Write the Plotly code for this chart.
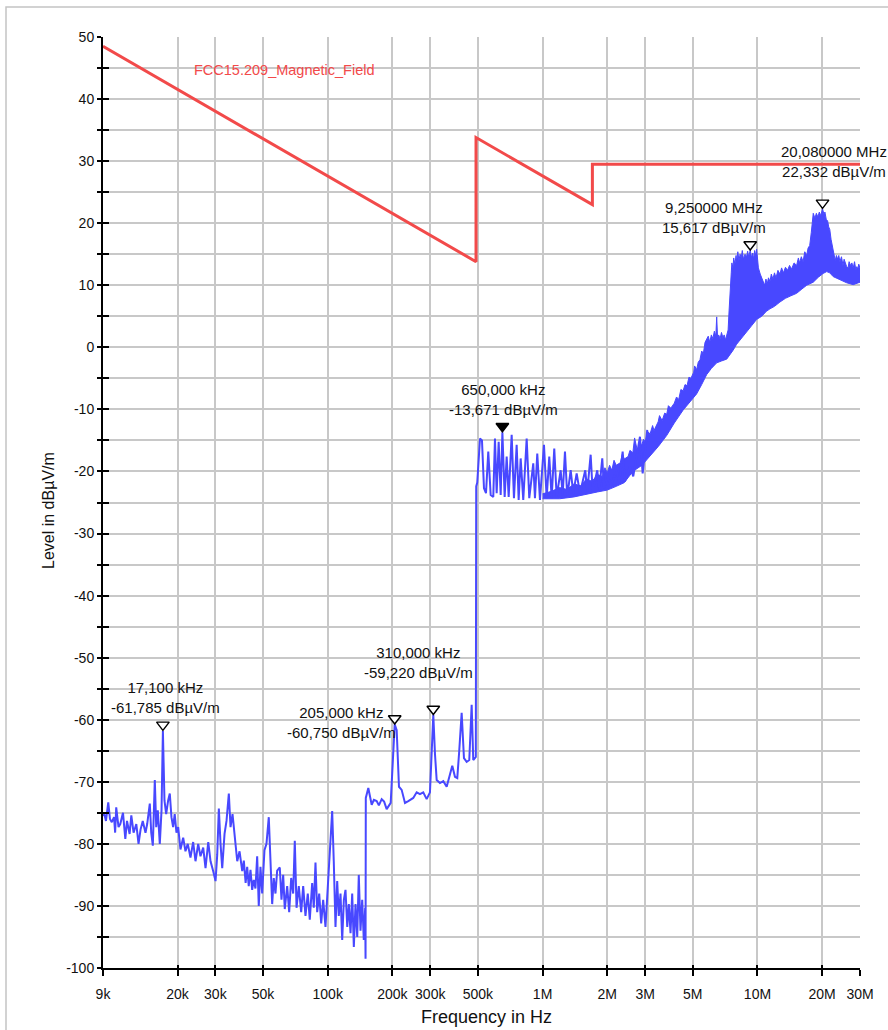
import math
import plotly.graph_objects as go

# ---------------- data ----------------
# Measured spectrum, 9 kHz - 150 kHz band (kHz, dBuV/m)
low_f_khz = [9.0, 9.1, 9.29, 9.52, 9.70, 9.89, 10.13, 10.25, 10.37, 10.63, 10.83, 11.15, 11.43, 11.64,
             11.97, 12.19, 12.49, 12.86, 13.17, 13.46, 13.78, 14.19, 14.45, 14.86, 15.09, 15.35, 15.68,
             15.92, 16.19, 16.54, 16.85, 17.1, 17.39, 17.71, 18.09, 18.41, 18.74, 19.08, 19.41, 19.77,
             20.14, 20.64, 21.25, 21.78, 22.32, 22.98, 23.65, 24.25, 24.96, 25.58, 26.34, 27.00, 27.80,
             28.49, 29.32, 30.06, 30.61, 31.14, 31.71, 32.29, 33.10, 33.81, 34.66, 35.30, 36.06, 36.97,
             37.93, 38.88, 40.02, 40.7, 41.5, 42.19, 42.9, 43.71, 44.51, 45.26, 46.1, 46.96, 47.77,
             48.65, 49.55, 50.78, 51.88, 53.18, 54.15, 55.15, 56.10, 57.13, 58.18, 59.83, 60.93, 62.05,
             63.12, 64.77, 66.17, 67.61, 69.07, 70.27, 71.6, 73.34, 75.25, 76.88, 78.80, 80.77, 82.52,
             84.66, 86.13, 87.72, 89.34, 91.27, 93.25, 95.26, 97.64, 99.43, 101.2, 103.0, 104.9, 106.7,
             108.7, 110.7, 112.6, 114.7, 116.8, 118.9, 121.0, 123.3, 125.4, 127.7, 130.0, 132.3, 134.7,
             137.2, 139.5, 142.1, 144.7, 147.2, 149.4, 150.0]
low_level = [-75.5, -75.0, -76.3, -73.3, -76.0, -76.5, -75.7, -78.2, -74.1, -77.3, -76.8, -75.0, -79.2, -76.3,
             -78.4, -75.4, -78.2, -76.8, -80.0, -77.7, -76.3, -78.2, -76.8, -73.5, -78.2, -80.3, -69.7,
             -77.3, -74.6, -80.0, -74.6, -61.8, -73.0, -75.2, -73.0, -71.9, -75.7, -77.3, -75.2, -78.2,
             -77.3, -80.9, -79.0, -81.2, -80.0, -82.2, -79.7, -82.8, -80.0, -82.0, -80.6, -83.9, -79.7,
             -82.8, -84.4, -86.0, -81.7, -74.3, -80.0, -83.9, -78.4, -76.3, -71.9, -77.3, -75.2, -79.0,
             -82.8, -81.2, -84.4, -82.7, -86.3, -83.7, -86.8, -84.2, -87.4, -85.8, -87.2, -82.0, -90.0,
             -83.7, -88.0, -81.0, -80.0, -75.7, -82.2, -89.7, -85.5, -88.0, -84.3, -83.8, -89.0, -85.0,
             -90.5, -86.8, -91.0, -85.5, -88.0, -79.5, -90.3, -86.8, -91.0, -86.8, -91.6, -88.0, -92.2,
             -86.3, -90.3, -83.0, -91.0, -88.0, -92.8, -89.0, -93.4, -88.5, -84.3, -79.5, -74.7, -82.8,
             -93.4, -86.0, -91.6, -88.0, -95.5, -89.0, -87.4, -93.4, -89.7, -94.4, -88.0, -96.6, -89.7,
             -95.0, -85.0, -94.0, -89.0, -95.5, -90.3, -98.5]

# 150 kHz - 490 kHz band (kHz, dBuV/m)
band2_f_khz = [150.4, 154.5, 160.2, 164.0, 169.0, 173.0, 178.3, 183.0, 188.1, 196.4, 201.9, 205.0, 209.4,
               214.6, 220.9, 228.9, 237.1, 250.1, 259.4, 268.7, 278.4, 288.7, 299.1, 304.0, 310.0, 315.6,
               321.4, 333.0, 345.0, 357.8, 370.6, 379.9, 391.0, 400.8, 409.4, 420.1, 430.6, 443.2, 455.8,
               467.6, 475.7, 489.0]
band2_level = [-72.6, -71.0, -73.7, -72.9, -73.1, -73.8, -72.8, -73.2, -74.4, -73.4, -64.9, -60.75, -61.7,
               -70.8, -71.3, -73.4, -73.1, -72.6, -71.7, -72.0, -71.7, -72.8, -71.7, -66.0, -59.22, -65.5,
               -69.7, -70.2, -69.9, -70.8, -68.8, -67.4, -69.2, -69.4, -65.0, -58.9, -66.2, -66.8, -66.5,
               -57.6, -66.5, -66.0]

# 490 kHz - 3.1 MHz band (kHz, dBuV/m)
band3_f_khz = [491.0, 496.5, 511.2, 522.3, 533.6, 545.2, 558.8, 573.3, 589.5, 600.3, 611.3, 624.6, 638.1,
               650.0, 666.0, 680.5, 695.2, 717.9, 735.8, 757.4, 773.8, 790.6, 812.9, 843.1, 866.9, 904.9,
               921.4, 944.5, 972.2, 1014.8, 1044.6, 1074.1, 1102.0, 1133.2, 1162.7, 1213.7, 1239.9, 1270.9,
               1302.7, 1350.9, 1389.0, 1440.5, 1492.4, 1579.6, 1613.8, 1673.6, 1709.9, 1796.4, 1835.3,
               1895.2, 1930.1, 2021.0, 2073.7, 2211.1, 2273.6, 2357.8, 2416.7, 2549.7, 2641.4, 2838.8,
               2922.1, 3069.7]
band3_level = [-22.4, -21.8, -14.7, -15.0, -22.7, -23.5, -16.8, -23.8, -24.1, -14.7, -23.5, -15.2, -23.8,
               -13.671, -24.1, -17.6, -24.1, -14.1, -24.3, -15.7, -24.6, -17.9, -24.6, -14.7, -24.3, -18.7,
               -24.3, -17.1, -24.6, -15.7, -24.3, -17.6, -24.3, -16.3, -24.1, -19.8, -23.8, -16.8,
               -24.1, -19.8, -23.5, -20.3, -23.5, -19.8, -23.2, -17.3, -23.2, -19.8, -23.0,
               -17.9, -22.7, -20.8, -22.4, -19.8, -21.9, -16.8, -21.6, -19.2, -20.8, -14.4,
               -20.3, -13.3]

# Dense part of the spectrum, 1.0 MHz - 30 MHz: envelope (MHz, dBuV/m)
env_upper_f_mhz = [1.0, 1.1, 1.2, 1.3, 1.4, 1.5, 1.6, 1.7, 1.8, 1.9, 1.95, 2.0, 2.05, 2.1, 2.15,
                   2.2, 2.3, 2.35, 2.4, 2.5, 2.55, 2.63, 2.68, 2.75, 2.9, 2.95, 3.0, 3.1, 3.16, 3.25, 3.3,
                   3.45, 3.5, 3.6, 3.7, 3.78, 3.85, 3.95, 4.1, 4.2, 4.3, 4.4, 4.51, 4.6, 4.7, 4.8, 4.9,
                   5.05, 5.1, 5.21, 5.3, 5.4, 5.5, 5.6, 5.7, 5.8, 5.9, 6.0, 6.1, 6.2, 6.3, 6.4, 6.46, 6.52,
                   6.6, 6.7, 6.8, 6.9, 7.0, 7.1, 7.19, 7.3, 7.38, 7.45, 7.55, 7.6, 7.69, 7.75, 7.85, 7.95,
                   8.0, 8.1, 8.2, 8.3, 8.4, 8.5, 8.6, 8.75, 8.9, 9.0, 9.1, 9.25, 9.4, 9.5, 9.6, 9.7, 9.8,
                   9.91, 10.0, 10.1, 10.3, 10.46, 10.6, 10.8, 10.95, 11.1, 11.25, 11.43, 11.6, 11.8, 12.0,
                   12.2, 12.45, 12.72, 12.95, 13.2, 13.5, 13.8, 14.1, 14.4, 14.8, 15.21, 15.5, 15.7, 16.0,
                   16.3, 16.6, 16.94, 17.2, 17.5, 17.8, 18.0, 18.18, 18.5, 18.8, 19.1, 19.4, 19.7, 20.08,
                   20.4, 20.6, 20.9, 21.2, 21.45, 21.7, 22.0, 22.2, 22.5, 22.8, 23.0, 23.3, 23.6, 23.9,
                   24.2, 24.6, 25.0, 25.3, 25.6, 26.0, 26.4, 26.7, 27.1, 27.5, 27.9, 28.3, 28.7, 29.0,
                   29.3, 29.6, 30.0]
env_upper = [-23.6, -23.2, -22.6, -22.9, -22.0, -22.3, -21.2, -21.6, -20.5, -20.8, -19.4, -20.2,
             -19.0, -19.8, -18.2, -19.0, -18.6, -17.2, -18.0, -17.6, -16.6, -17.0, -14.6, -16.4, -15.6,
             -14.8, -15.2, -13.6, -14.0, -12.6, -13.4, -12.0, -11.0, -11.8, -10.6, -10.8, -9.4, -9.8,
             -9.0, -8.0, -8.4, -6.8, -7.0, -6.0, -6.2, -4.8, -5.0, -4.0, -3.0, -3.6, -2.4, -2.0, -0.6,
             -1.0, 0.8, 1.2, 1.8, 0.8, 2.0, 1.4, 2.6, 1.8, 4.9, 1.6, 2.0, 1.4, 2.4, 1.6, 2.0, 1.2, 2.2,
             2.8, 6.0, 9.6, 12.0, 13.6, 12.8, 14.4, 13.4, 14.8, 13.8, 15.4, 14.0, 15.0, 14.4, 15.6, 14.2,
             15.0, 14.6, 15.5, 14.6, 15.617, 14.4, 15.2, 14.2, 15.6, 14.8, 15.8, 13.6, 12.8, 11.8, 11.2,
             10.4, 10.0, 11.0, 10.2, 11.2, 10.6, 11.8, 11.0, 12.0, 11.2, 12.4, 11.8, 12.8, 12.0, 12.9,
             12.4, 13.2, 12.6, 13.6, 13.2, 14.4, 13.6, 14.6, 13.8, 15.4, 14.8, 16.0, 16.4, 18.5, 20.0,
             21.6, 20.8, 21.6, 21.0, 21.8, 21.2, 22.332, 21.4, 21.8, 20.6, 20.4, 19.4, 19.0, 17.4, 16.6,
             15.3, 14.4, 14.0, 14.8, 14.2, 14.8, 13.8, 14.6, 13.2, 14.2, 13.8, 13.0, 12.8, 13.8, 13.2,
             13.6, 12.8, 13.8, 12.4, 13.0, 12.6, 13.4, 12.8]
env_lower_f_mhz = [1.0, 1.2, 1.4, 1.6, 1.8, 2.0, 2.2, 2.4, 2.63, 2.9, 3.16, 3.45, 3.78, 4.1, 4.51,
                   4.85, 5.21, 5.5, 5.8, 6.1, 6.46, 6.8, 7.19, 7.45, 7.69, 8.0, 8.4, 8.9, 9.4, 9.91,
                   10.46, 11.0, 11.43, 12.0, 12.72, 13.5, 14.3, 15.21, 16.1, 16.94, 18.18, 19.2, 20.2,
                   21.0, 21.7, 22.5, 24.2, 26.0, 27.9, 30.0]
env_lower = [-24.4, -24.4, -24.1, -23.7, -23.3, -23.0, -22.4, -21.8, -20.0, -19.0, -17.6, -16.0,
             -14.2, -12.2, -10.1, -8.8, -7.5, -6.0, -4.4, -3.4, -2.5, -2.2, -1.9, -1.2, -0.5, 0.5, 1.5,
             2.5, 3.5, 4.5, 5.0, 5.8, 6.2, 6.6, 7.3, 7.9, 8.3, 8.7, 9.4, 10.0, 10.5, 11.3, 11.9, 12.2,
             12.0, 11.4, 10.9, 10.4, 10.1, 10.5]

# FCC 15.209 limit (Hz, dBuV/m)
limit_f_hz = [9e3, 490e3, 490e3, 1.705e6, 1.705e6, 30e6]
limit_level = [48.5, 13.8, 33.8, 23.0, 29.5, 29.5]
limit_name = "FCC15.209_Magnetic_Field"

# Markers (Hz, dBuV/m, label, filled)
marker_f_hz = [17.1e3, 205e3, 310e3, 650e3, 9.25e6, 20.08e6]
marker_level = [-61.785, -60.750, -59.220, -13.671, 15.617, 22.332]
marker_text = ["17,100 kHz<br>-61,785 dBµV/m", "205,000 kHz<br>-60,750 dBµV/m",
               "310,000 kHz<br>-59,220 dBµV/m", "650,000 kHz<br>-13,671 dBµV/m",
               "9,250000 MHz<br>15,617 dBµV/m", "20,080000 MHz<br>22,332 dBµV/m"]
marker_filled = [False, False, False, True, False, False]

# Axis ticks
x_tickvals = [9e3, 2e4, 3e4, 5e4, 1e5, 2e5, 3e5, 5e5, 1e6, 2e6, 3e6, 5e6, 1e7, 2e7, 3e7]
x_ticktext = ["9k", "20k", "30k", "50k", "100k", "200k", "300k", "500k", "1M", "2M", "3M", "5M",
              "10M", "20M", "30M"]
y_tickvals = [-100, -95, -90, -85, -80, -75, -70, -65, -60, -55, -50, -45, -40, -35, -30, -25, -20,
              -15, -10, -5, 0, 5, 10, 15, 20, 25, 30, 35, 40, 45, 50]
y_ticktext = ["-100", "", "-90", "", "-80", "", "-70", "", "-60", "", "-50", "", "-40", "", "-30", "",
              "-20", "", "-10", "", "0", "", "10", "", "20", "", "30", "", "40", "", "50"]

# ---------------- styling ----------------
BLUE = "#4848FF"
RED = "#F24A4A"
FONT = "Liberation Sans, Arial, sans-serif"
W, H = 888, 1030
ML, MR, MT, MB = 103, 28, 37, 62
PW, PH = W - ML - MR, H - MT - MB

fig = go.Figure()

# dense envelope as filled polygon
poly_x = [f * 1e6 for f in env_upper_f_mhz] + [f * 1e6 for f in reversed(env_lower_f_mhz)]
poly_y = list(env_upper) + list(reversed(env_lower))
fig.add_trace(go.Scatter(x=poly_x, y=poly_y, mode="lines", fill="toself", fillcolor=BLUE,
                         line=dict(color=BLUE, width=1), hoverinfo="skip", showlegend=False))

# spectrum line
line_x = [f * 1e3 for f in low_f_khz] + [f * 1e3 for f in band2_f_khz] + [f * 1e3 for f in band3_f_khz]
line_y = low_level + band2_level + band3_level
fig.add_trace(go.Scatter(x=line_x, y=line_y, mode="lines", line=dict(color=BLUE, width=2),
                         showlegend=False, name="Level"))

# limit line
fig.add_trace(go.Scatter(x=limit_f_hz, y=limit_level, mode="lines", line=dict(color=RED, width=3),
                         showlegend=False, name=limit_name))

# markers (drawn slightly above the peak so the tip touches it)
MARK_OFF = 0.95
fig.add_trace(go.Scatter(
    x=marker_f_hz, y=[v + MARK_OFF for v in marker_level], mode="markers", showlegend=False,
    marker=dict(symbol="triangle-down", size=11,
                color=["black" if f else "white" for f in marker_filled],
                line=dict(color="black", width=1.4))))

# dummy trace for inside-tick overlay axes
fig.add_trace(go.Scatter(x=[9e3], y=[-200], xaxis="x2", yaxis="y2", mode="markers",
                         marker=dict(opacity=0), hoverinfo="skip", showlegend=False))

# marker labels: (xshift, yshift) in px relative to the marker point, anchored at text bottom
label_shift = [(3, 13), (-53, -19), (-15, 32), (1, 12), (-36, 12), (11, 27)]
for f, v, t, (dx, dy) in zip(marker_f_hz, marker_level, marker_text, label_shift):
    fig.add_annotation(x=math.log10(f), y=v, xref="x", yref="y", text=t, showarrow=False,
                       align="center", xanchor="center", yanchor="bottom", xshift=dx, yshift=dy,
                       font=dict(family=FONT, size=15, color="#111"))

# limit name
fig.add_annotation(x=(192 - ML) / PW, y=(H - MB - 70) / PH, xref="paper", yref="paper",
                   text=limit_name, showarrow=False, xanchor="left", yanchor="middle",
                   font=dict(family=FONT, size=14.5, color=RED))

# axis titles
fig.add_annotation(x=(486 - ML) / PW, y=(H - MB - 1017) / PH, xref="paper", yref="paper",
                   text="Frequency in Hz", showarrow=False, xanchor="center", yanchor="middle",
                   font=dict(family=FONT, size=18, color="#111"))
fig.add_annotation(x=(48 - ML) / PW, y=(H - MB - 511) / PH, xref="paper", yref="paper",
                   text="Level in dBµV/m", textangle=-90, showarrow=False, xanchor="center",
                   yanchor="middle", font=dict(family=FONT, size=16, color="#111"))

# outer frame
fig.add_shape(type="rect", xref="paper", yref="paper",
              x0=(6 - ML) / PW, x1=(895 - ML) / PW, y0=(H - MB - 1040) / PH, y1=(H - MB - 7) / PH,
              line=dict(color="#c4c4c4", width=1.5), fillcolor="rgba(0,0,0,0)", layer="below")

xr = [math.log10(9e3), math.log10(3e7)]
fig.update_layout(
    width=W, height=H, margin=dict(l=ML, r=MR, t=MT, b=MB),
    paper_bgcolor="white", plot_bgcolor="white",
    font=dict(family=FONT, size=14, color="#111"),
    xaxis=dict(type="log", range=xr, tickmode="array", tickvals=x_tickvals, ticktext=x_ticktext,
               showgrid=True, gridcolor="#c8c8c8", gridwidth=1.6, zeroline=False,
               showline=True, linecolor="black", linewidth=2, ticks="outside", ticklen=6,
               tickwidth=1.6, tickcolor="black", ticklabelstandoff=6,
               tickfont=dict(family=FONT, size=14, color="#111")),
    yaxis=dict(range=[-100, 50], tickmode="array", tickvals=y_tickvals, ticktext=y_ticktext,
               showgrid=True, gridcolor="#c8c8c8", gridwidth=1.6, zeroline=False,
               showline=True, linecolor="black", linewidth=2, ticks="outside", ticklen=4,
               tickwidth=1.6, tickcolor="black",
               tickfont=dict(family=FONT, size=14, color="#111")),
    xaxis2=dict(type="log", range=xr, overlaying="x", anchor="y2", side="bottom", tickmode="array",
                tickvals=x_tickvals, ticks="inside", ticklen=3, tickwidth=1.6, tickcolor="black",
                showticklabels=False, showgrid=False, zeroline=False, showline=False),
    yaxis2=dict(range=[-100, 50], overlaying="y", anchor="x2", side="left", tickmode="array",
                tickvals=y_tickvals, ticks="inside", ticklen=6, tickwidth=1.6, tickcolor="black",
                showticklabels=False, showgrid=False, zeroline=False, showline=False),
    hovermode=False,
)

fig.write_html("out.html", config={"displayModeBar": False},
               post_script="document.body.style.margin='0';")
